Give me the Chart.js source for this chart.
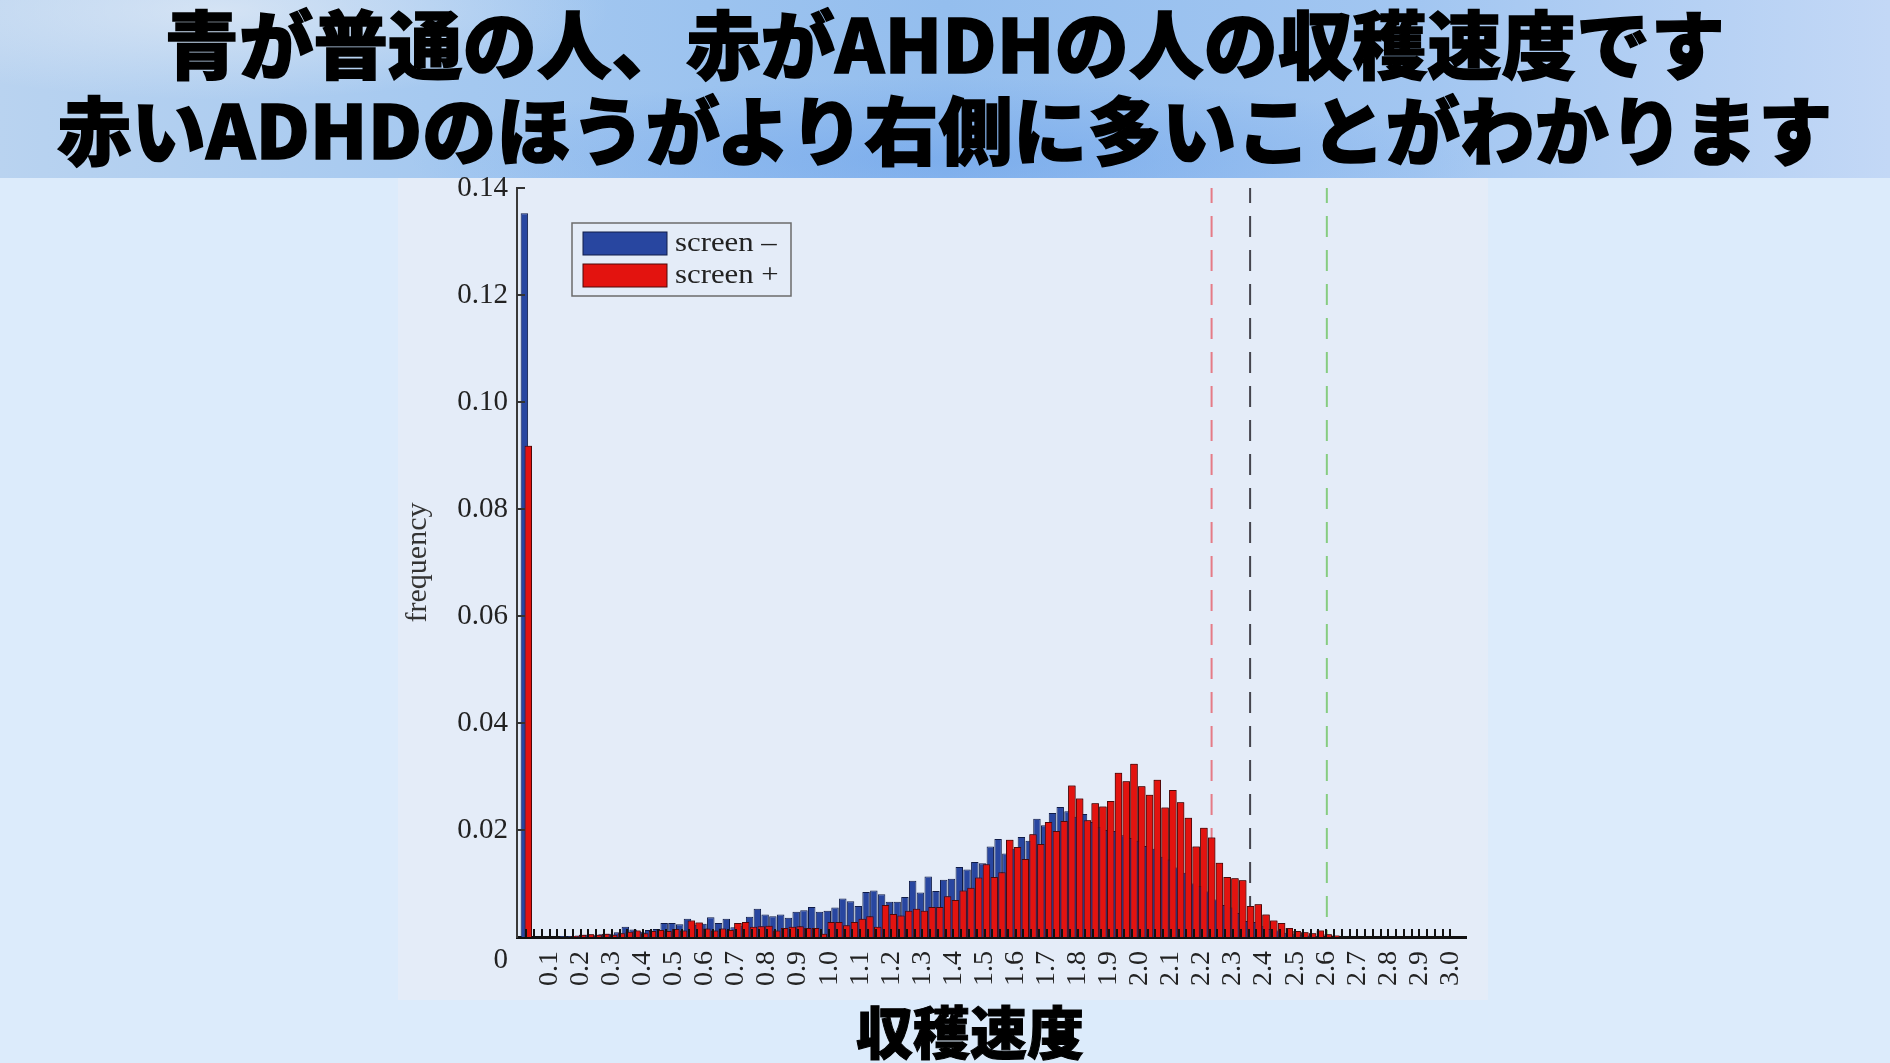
<!DOCTYPE html>
<html lang="ja">
<head>
<meta charset="utf-8">
<title>収穫速度</title>
<script src="https://cdn.jsdelivr.net/npm/chart.js@4.4.0/dist/chart.umd.min.js"></script>
<style>
  html, body { margin: 0; padding: 0; }
  body {
    width: 1890px; height: 1063px; overflow: hidden; position: relative;
    background: #dcebfb;
    font-family: "Noto Sans CJK JP", sans-serif;
  }
  #banner {
    position: absolute; left: 0; top: 0; width: 1890px; height: 178px;
    background:
      radial-gradient(ellipse 720px 110px at 950px 160px, rgba(105,160,235,0.55), rgba(105,160,235,0) 75%),
      radial-gradient(ellipse 520px 120px at 220px 10px, rgba(228,236,246,0.7), rgba(228,236,246,0) 75%),
      linear-gradient(90deg, #b9d3f0 0%, #a4c8f0 25%, #94beee 50%, #a2c6f1 75%, #c3d8f6 100%);
  }
  #banner div {
    text-align: center; font-weight: 900; font-size: 74px; line-height: 86px;
    color: #000; white-space: nowrap; letter-spacing: 0.5px;
    -webkit-text-stroke: 1.6px #000;
    position: relative; top: -2px;
  }
  #panel {
    position: absolute; left: 398px; top: 178px; width: 1090px; height: 822px;
    background: #e4ecf8;
  }
  #chart { position: absolute; left: 0; top: 0; }
  #xtitle {
    position: absolute; left: 770px; width: 400px; top: 999px;
    text-align: center; font-size: 57px; line-height: 60px; font-weight: 900; color: #000;
    -webkit-text-stroke: 1px #000;
  }
</style>
</head>
<body>
<div id="banner">
  <div>青が普通の人、赤がAHDHの人の収穫速度です</div>
  <div>赤いADHDのほうがより右側に多いことがわかります</div>
</div>
<div id="panel"></div>
<canvas id="chart" width="1890" height="1063"></canvas>
<div id="xtitle">収穫速度</div>

<script>
// histogram bin width (harvest rate)
var BIN_WIDTH = 0.025;
// screen - (blue), one value per bin, bins 1..120
var blueFreq = [
  0.1353, 0, 0, 0, 0, 0.0002, 0.0002, 0.0003, 0.0004, 0.0003,
  0.0005, 0.0006, 0.0009, 0.0019, 0.0014, 0.0010, 0.0013, 0.0015, 0.0026, 0.0026,
  0.0024, 0.0034, 0.0023, 0.0025, 0.0037, 0.0026, 0.0034, 0.0018, 0.0020, 0.0038,
  0.0053, 0.0042, 0.0039, 0.0042, 0.0036, 0.0047, 0.0050, 0.0056, 0.0047, 0.0049,
  0.0055, 0.0072, 0.0067, 0.0058, 0.0084, 0.0087, 0.0080, 0.0066, 0.0066, 0.0075,
  0.0105, 0.0083, 0.0113, 0.0086, 0.0107, 0.0109, 0.0131, 0.0126, 0.0140, 0.0138,
  0.0169, 0.0183, 0.0156, 0.0165, 0.0187, 0.0180, 0.0221, 0.0209, 0.0232, 0.0243,
  0.0235, 0.0225, 0.0230, 0.0215, 0.0205, 0.0200, 0.0198, 0.0190, 0.0185, 0.0180,
  0.0170, 0.0165, 0.0150, 0.0145, 0.0130, 0.0120, 0.0100, 0.0095, 0.0085, 0.0070,
  0.0060, 0.0055, 0.0045, 0.0030, 0.0028, 0.0020, 0.0015, 0.0012, 0.0008, 0.0005,
  0.0004, 0.0003, 0.0002, 0.0001, 0, 0, 0, 0, 0, 0,
  0, 0, 0, 0, 0, 0, 0, 0, 0, 0
];
// screen + (red)
var redFreq = [
  0.0918, 0, 0, 0, 0, 0, 0.0002, 0.0004, 0.0005, 0.0004,
  0.0006, 0.0004, 0.0007, 0.0010, 0.0012, 0.0007, 0.0011, 0.0013, 0.0011, 0.0015,
  0.0012, 0.0031, 0.0027, 0.0016, 0.0012, 0.0016, 0.0013, 0.0026, 0.0028, 0.0019,
  0.0020, 0.0021, 0.0012, 0.0017, 0.0019, 0.0020, 0.0017, 0.0017, 0.0006, 0.0028,
  0.0028, 0.0022, 0.0028, 0.0034, 0.0039, 0.0019, 0.0060, 0.0043, 0.0040, 0.0049,
  0.0053, 0.0049, 0.0056, 0.0056, 0.0076, 0.0069, 0.0087, 0.0092, 0.0111, 0.0136,
  0.0112, 0.0121, 0.0182, 0.0168, 0.0146, 0.0192, 0.0174, 0.0215, 0.0198, 0.0217,
  0.0283, 0.0259, 0.0218, 0.0250, 0.0244, 0.0254, 0.0307, 0.0291, 0.0324, 0.0282,
  0.0266, 0.0294, 0.0242, 0.0275, 0.0252, 0.0223, 0.0169, 0.0204, 0.0186, 0.0139,
  0.0112, 0.0110, 0.0106, 0.0058, 0.0061, 0.0042, 0.0031, 0.0026, 0.0017, 0.0011,
  0.0009, 0.0007, 0.0012, 0.0005, 0.0003, 0, 0, 0, 0, 0,
  0, 0, 0, 0, 0, 0, 0, 0, 0, 0
];
// dashed reference lines (red, black, green)
var refLines = [2.231, 2.355, 2.602];
var refColors = ['#e57b86', '#45454d', '#86cc80'];
var seriesLabels = ['screen \u2013', 'screen +'];
var xTickLabels = ['0.1','0.2','0.3','0.4','0.5','0.6','0.7','0.8','0.9','1.0',
                   '1.1','1.2','1.3','1.4','1.5','1.6','1.7','1.8','1.9','2.0',
                   '2.1','2.2','2.3','2.4','2.5','2.6','2.7','2.8','2.9','3.0'];
var yTickLabels = ['0.02','0.04','0.06','0.08','0.10','0.12','0.14'];

// bin centres
var binCenters = blueFreq.map(function (v, i) { return (i + 1) * BIN_WIDTH; });
function toPoints(arr) {
    return arr.map(function (v, i) { return {x: binCenters[i], y: v}; });
}

var SERIF = '"Liberation Serif", "Times New Roman", serif';
Chart.defaults.font.family = SERIF;

//red bars sit on top of the blue ones, ticks point inwards
var overlayPlugin = {
    id: 'overlay',
    afterDatasetsDraw: function (chart) {
        chart.getDatasetMeta(1).controller.draw();
        var ctx = chart.ctx, area = chart.chartArea;
        var x = chart.scales.x, y = chart.scales.y;
        ctx.save();
        ctx.strokeStyle = '#111';
        ctx.lineWidth = 2;
        ctx.beginPath();
        binCenters.forEach(function (v) {
            var px = Math.round(x.getPixelForValue(v));
            ctx.moveTo(px, area.bottom);
            ctx.lineTo(px, area.bottom - 8);
        });
        ctx.stroke();
        ctx.strokeStyle = '#333';
        ctx.lineWidth = 2;
        ctx.beginPath();
        y.ticks.forEach(function (t) {
            var py = y.getPixelForValue(t.value);
            ctx.moveTo(area.left, py);
            ctx.lineTo(area.left + 8, py);
        });
        ctx.stroke();
        // zero label sits lower than the axis in the source figure
        ctx.fillStyle = '#222';
        ctx.font = '29px ' + SERIF;
        ctx.textAlign = 'right';
        ctx.textBaseline = 'middle';
        ctx.fillText('0', area.left - 9, y.getPixelForValue(0) + 23);
        ctx.restore();
    },
    afterDraw: function (chart) {
        var ctx = chart.ctx, area = chart.chartArea;
        var x0 = area.left + 55, y0 = area.top + 35;
        ctx.save();
        ctx.strokeStyle = '#6b6b6b';
        ctx.lineWidth = 1.5;
        ctx.strokeRect(x0, y0, 219, 73);
        for (var i = 0; i < 2; i++) {
            var ds = chart.data.datasets[i];
            var sy = y0 + 9 + i * 32;
            ctx.fillStyle = ds.backgroundColor;
            ctx.fillRect(x0 + 11, sy, 84, 23);
            ctx.strokeStyle = ds.borderColor;
            ctx.lineWidth = 1;
            ctx.strokeRect(x0 + 11, sy, 84, 23);
            ctx.fillStyle = '#222';
            ctx.font = '28px ' + SERIF;
            ctx.textAlign = 'left';
            ctx.textBaseline = 'middle';
            // the source figure's lettering is a little wide
            ctx.save();
            ctx.translate(x0 + 103, sy + 12);
            ctx.scale(1.1, 1);
            ctx.fillText(ds.label, 0, 0);
            ctx.restore();
        }
        ctx.restore();
    }
};

var datasets = [{
    label: seriesLabels[0],
    data: toPoints(blueFreq),
    backgroundColor: '#2846a0',
    borderColor: '#101c48',
    borderWidth: 1
}, {
    label: seriesLabels[1],
    data: toPoints(redFreq),
    backgroundColor: '#e3130f',
    borderColor: '#4e0909',
    borderWidth: 1
}];
refLines.forEach(function (v, i) {
    datasets.push({
        type: 'line',
        label: 'ref' + i,
        data: [{x: v, y: 0.14}, {x: v, y: 0}],
        borderColor: refColors[i],
        borderWidth: 2,
        borderDash: [21, 13],
        borderDashOffset: 6,
        pointRadius: 0,
        fill: false
    });
});

var myChart = new Chart(document.getElementById('chart').getContext('2d'), {
    type: 'bar',
    data: { datasets: datasets },
    plugins: [overlayPlugin],
    options: {
        responsive: false,
        animation: false,
        layout: { padding: { left: 0, right: 424, top: 188, bottom: 0 } },
        datasets: { bar: { categoryPercentage: 1, barPercentage: 1.92 } },
        plugins: { legend: { display: false }, tooltip: { enabled: false } },
        scales: {
            x: {
                type: 'linear',
                offset: false,
                min: -0.005,
                max: 3.05,
                afterBuildTicks: function (s) {
                    s.ticks = xTickLabels.map(function (t) { return {value: Number(t)}; });
                },
                afterFit: function (s) { s.height = 126; },
                grid: { display: false, drawTicks: false },
                border: { display: true, color: '#111', width: 3 },
                ticks: {
                    autoSkip: false, minRotation: 90, maxRotation: 90, padding: 14,
                    color: '#222', font: { size: 28 },
                    callback: function (v, i) { return xTickLabels[i]; }
                }
            },
            y: {
                min: 0,
                max: 0.14,
                afterBuildTicks: function (s) {
                    s.ticks = yTickLabels.map(function (t) { return {value: Number(t)}; });
                },
                afterFit: function (s) { s.width = 517; },
                grid: { display: false, drawTicks: false },
                border: { display: true, color: '#3a3a3a', width: 2 },
                ticks: {
                    padding: 9, color: '#222', font: { size: 29 },
                    callback: function (v, i) { return yTickLabels[i]; }
                },
                title: {
                    display: true, text: 'frequency', color: '#333',
                    font: { size: 30 }, padding: { top: 400, bottom: 0 }
                }
            }
        }
    }
});
</script>
</body>
</html>
